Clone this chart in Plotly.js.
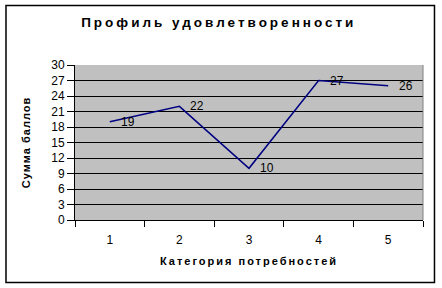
<!DOCTYPE html>
<html><head><meta charset="utf-8">
<script src="https://cdn.plot.ly/plotly-3.0.1.min.js"></script>
<style>body{margin:0;background:#fff}#chart{width:442px;height:288px}</style>
</head><body><div id="chart"></div>
<script>
const categories = ['1','2','3','4','5'];
const values = [19, 22, 10, 27, 26];
const yTicks = [0,3,6,9,12,15,18,21,24,27,30];
const titleText = 'Профиль удовлетворенности';
const xTitle = 'Категория потребностей';
const yTitle = 'Сумма баллов';

const font = 'Arial, "Liberation Sans", sans-serif';
const trace = {
  x: categories, y: values, type: 'scatter', mode: 'lines',
  line: {color: '#000080', width: 1.5}, hoverinfo: 'none'
};
const annotations = categories.map((c, i) => ({
  x: i, y: values[i], text: String(values[i]), xref: 'x', yref: 'y',
  showarrow: false, xanchor: 'left', yanchor: 'middle', xshift: 9,
  font: {family: font, size: 12, color: '#000'}
}));
const layout = {
  width: 442, height: 288,
  margin: {l: 75, r: 19, t: 65, b: 68},
  paper_bgcolor: '#fff', plot_bgcolor: '#C0C0C0',
  showlegend: false,
  title: {text: '<b>' + titleText + '</b>', x: 0.495, xanchor: 'center', y: 0.922, yanchor: 'middle',
          font: {family: font, size: 13.5, color: '#000'}},
  xaxis: {type: 'category', range: [-0.5, 4.5], autorange: false, tickson: 'boundaries',
          ticks: 'outside', ticklen: 6, tickcolor: '#000', ticklabelstandoff: 9,
          showgrid: false, showline: true, linecolor: '#000', linewidth: 1, zeroline: false,
          tickfont: {family: font, size: 12, color: '#000'},
          title: {text: '<b>' + xTitle + '</b>', standoff: 10, font: {family: font, size: 11, color: '#000'}}},
  yaxis: {range: [0, 30], autorange: false, tickmode: 'array', tickvals: yTicks, ticktext: yTicks.map(String),
          ticks: 'outside', ticklen: 7, tickcolor: '#000',
          showgrid: true, gridcolor: '#000', gridwidth: 1, zeroline: false,
          showline: true, linecolor: '#000', linewidth: 1,
          tickfont: {family: font, size: 12, color: '#000'},
          title: {text: '<b>' + yTitle + '</b>', standoff: 18, font: {family: font, size: 11, color: '#000'}}},
  shapes: [
    {type: 'rect', xref: 'paper', yref: 'paper', x0: -0.1983, x1: 1.033, y0: -0.403, y1: 1.384,
     line: {color: '#000', width: 1.5}, fillcolor: 'rgba(0,0,0,0)', layer: 'below'},
    {type: 'line', xref: 'paper', yref: 'paper', x0: 1, x1: 1, y0: 0, y1: 1,
     line: {color: '#808080', width: 1}}
  ],
  annotations: annotations
};
function spacing(){
  document.querySelectorAll('.gtitle').forEach(e => e.setAttribute('letter-spacing', '3'));
  document.querySelectorAll('.xtitle').forEach(e => e.setAttribute('letter-spacing', '2'));
  document.querySelectorAll('.ytitle').forEach(e => e.setAttribute('letter-spacing', '1'));
}
Plotly.newPlot('chart', [trace], layout, {staticPlot: true}).then(gd => {
  spacing();
  gd.on('plotly_afterplot', spacing);
});
</script></body></html>
